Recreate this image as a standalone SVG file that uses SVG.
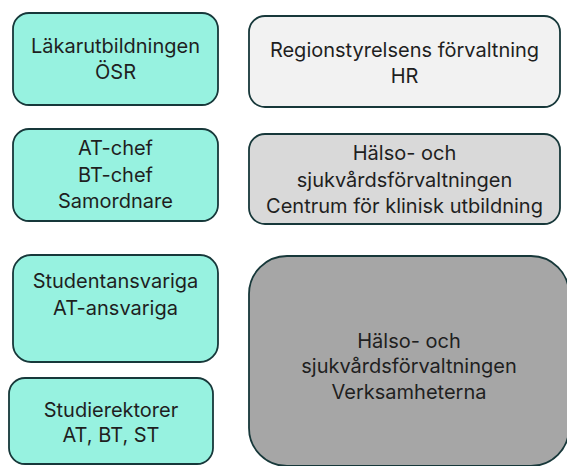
<svg xmlns="http://www.w3.org/2000/svg" width="567" height="466" viewBox="0 0 567 466">
<style>
.box{stroke:#17383a;stroke-width:1.8}
.teal{fill:#97F2E0}
.light{fill:#F2F2F2}
.mid{fill:#D9D9D9}
.dark{fill:#A6A6A6}
text{font-family:Inter,"Open Sans","Liberation Sans",sans-serif;font-size:20px;fill:#1f1f1f;text-anchor:middle}
</style>
<rect width="567" height="466" fill="#FFFFFF"/>
<g id="lakarutbildningen">
<rect class="box teal" x="13" y="13" width="205" height="92" rx="16"/>
<text x="115.5" y="53">Läkarutbildningen</text>
<text x="115.5" y="79">ÖSR</text>
</g>
<g id="at-chef">
<rect class="box teal" x="13" y="129" width="205" height="92" rx="16"/>
<text x="115.5" y="155">AT-chef</text>
<text x="115.5" y="181.5">BT-chef</text>
<text x="115.5" y="208">Samordnare</text>
</g>
<g id="studentansvariga">
<rect class="box teal" x="13" y="255" width="205" height="107" rx="18"/>
<text x="115.5" y="288">Studentansvariga</text>
<text x="115.5" y="315">AT-ansvariga</text>
</g>
<g id="studierektorer">
<rect class="box teal" x="9" y="378" width="204" height="86" rx="16"/>
<text x="111" y="417">Studierektorer</text>
<text x="111" y="442">AT, BT, ST</text>
</g>
<g id="regionstyrelsen">
<rect class="box light" x="249" y="16" width="311" height="91" rx="16"/>
<text x="404.5" y="57">Regionstyrelsens förvaltning</text>
<text x="404.5" y="83">HR</text>
</g>
<g id="hsf-cku">
<rect class="box mid" x="249" y="134" width="311" height="90" rx="16"/>
<text x="404.5" y="160">Hälso- och</text>
<text x="404.5" y="187">sjukvårdsförvaltningen</text>
<text x="404.5" y="213">Centrum för klinisk utbildning</text>
</g>
<g id="hsf-verksamheterna">
<rect class="box dark" x="249" y="256" width="320" height="210" rx="38"/>
<text x="409" y="348">Hälso- och</text>
<text x="409" y="373">sjukvårdsförvaltningen</text>
<text x="409" y="399">Verksamheterna</text>
</g>
<g id="connectors"/>
</svg>
